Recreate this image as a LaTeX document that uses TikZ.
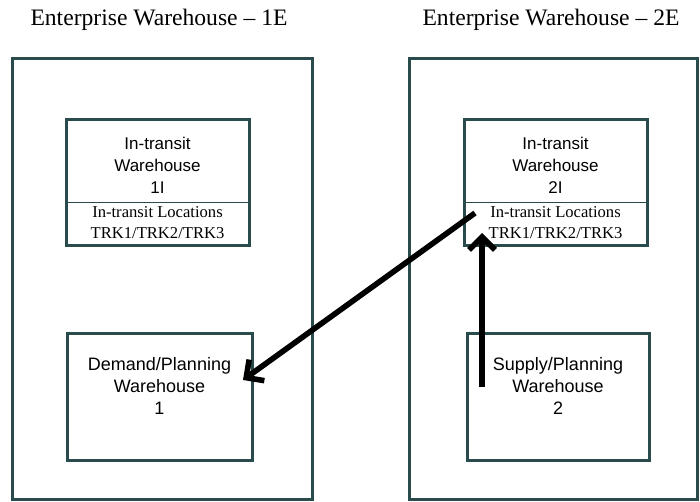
\documentclass[tikz,border=0pt]{standalone}
\usepackage{fontspec}
\setmainfont{Liberation Serif}
\setsansfont{Liberation Sans}
\usepackage{tikz}
\usetikzlibrary{arrows.meta}
\usetikzlibrary{positioning}
\definecolor{boxline}{HTML}{2A4B4C}

\begin{document}
\begin{tikzpicture}[x=0.5pt, y=-0.5pt]
	\useasboundingbox (0,0) rectangle (700,502);

	\begin{scope}[every node/.style={font=\fontsize{11.8}{13}\selectfont}]
		\node (t1) at (159,20) {Enterprise Warehouse -- 1E};
		\node (t2) at (551,20) {Enterprise Warehouse -- 2E};
	\end{scope}

	\begin{scope}[every node/.style={draw=boxline, line width=1.5pt, inner sep=0pt}]
		\node[minimum width=150pt, minimum height=220pt] (e1) at (162,279) {};
		\node[minimum width=144pt, minimum height=220pt] (e2) at (553,279) {};
		\node[minimum width=91.5pt, minimum height=62.5pt] (it1) at (157.5,182.5) {};
		\node[minimum width=91.5pt, minimum height=62.5pt] (it2) at (555.5,182.5) {};
		\node[minimum width=92.5pt, minimum height=63.5pt] (dp1) at (159.5,396.5) {};
		\node[minimum width=91pt, minimum height=63.5pt] (sp2) at (558,396.5) {};
	\end{scope}

	\draw[boxline, line width=0.6pt] ([yshift=22pt]it1.south west) -- ([yshift=22pt]it1.south east);
	\draw[boxline, line width=0.6pt] ([yshift=22pt]it2.south west) -- ([yshift=22pt]it2.south east);

	\begin{scope}[every node/.style={align=center, inner sep=0pt}]
		\node[font=\sffamily\fontsize{8.5}{11}\selectfont] (w1) at (157.5,165.5) {In-transit\\Warehouse\\1I};
		\node[font=\sffamily\fontsize{8.5}{11}\selectfont] (w2) at (555.5,165.5) {In-transit\\Warehouse\\2I};
		\node[font=\fontsize{8.3}{10.5}\selectfont] (l1) at (157.5,223) {In-transit Locations\\TRK1/TRK2/TRK3};
		\node[font=\fontsize{8.3}{10.5}\selectfont] (l2) at (555.5,223) {In-transit Locations\\TRK1/TRK2/TRK3};
		\node[font=\sffamily\fontsize{9}{11}\selectfont] (d1) at (159.5,386) {Demand/Planning\\Warehouse\\1};
		\node[font=\sffamily\fontsize{9}{11}\selectfont] (s2) at (558,386) {Supply/Planning\\Warehouse\\2};
	\end{scope}

	\coordinate (from2) at (475,213);
	\coordinate (to1) at (243,380);
	\coordinate (up2) at (482,387);
	\coordinate (top2) at (482,233);

	\begin{scope}[>={Straight Barb[length=6.5pt, width=13pt]}, line width=2.8pt]
		\draw[->] (from2) -- (to1);
		\draw[->] (up2) -- (top2);
	\end{scope}
\end{tikzpicture}
\end{document}
